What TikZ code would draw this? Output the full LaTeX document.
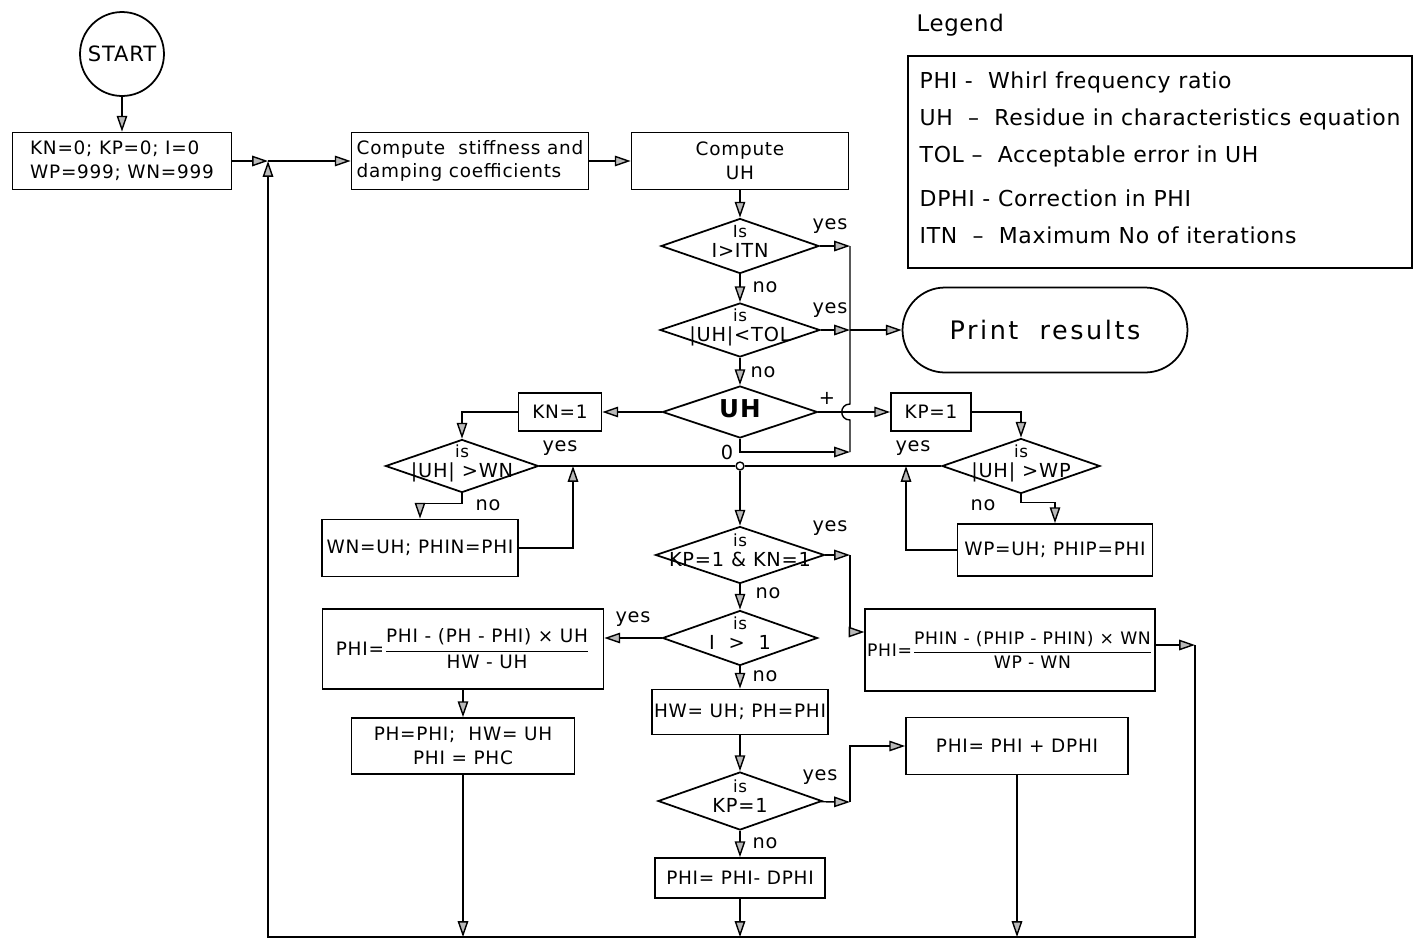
\documentclass[tikz,border=0pt]{standalone}
\usepackage{fontspec}
\usepackage{amsmath}
\setmainfont{DejaVu Sans}[LetterSpace=3]
\newfontfamily\chartfont{DejaVu Sans}[LetterSpace=4]
\usetikzlibrary{shapes.geometric,arrows.meta}

% text that takes no room inside a decision box
\newcommand{\ctext}[1]{\raisebox{-0.55ex}[0pt][0pt]{\makebox[0pt]{#1}}}
\newcommand{\dtext}[2]{\raisebox{-0.15ex}[0pt][0pt]{\makebox[0pt]{\begin{tabular}{@{}c@{}}{\fontsize{9.5}{9}\selectfont #1}\\[-2pt]#2\end{tabular}}}}

\begin{document}
\begin{tikzpicture}[x=0.02cm, y=-0.02cm, line width=0.8pt]
  \tikzset{box/.style={draw, rectangle, line width=1pt, align=center, inner sep=1pt, font=\chartfont\fontsize{10.5}{13.5}\selectfont},
    test/.style={draw, diamond, line width=1pt, inner sep=0pt, font=\chartfont\fontsize{11}{13}\selectfont},
    flow/.style={draw, -{Triangle[length=9pt, width=6pt, fill=gray!55]}},
    tag/.style={font=\chartfont\fontsize{11}{12}\selectfont, inner sep=1pt}}
  \useasboundingbox (0,0) rectangle (1414,941);

  % start and initial values
  \node[draw, circle, line width=1pt, minimum size=1.68cm, inner sep=0pt, font=\chartfont\fontsize{12}{13}\selectfont] (start) at (122,54) {START};
  \node[box, align=left, minimum width=4.38cm, minimum height=1.14cm] (init) at (122,161) {KN=0; KP=0; I=0\\WP=999; WN=999};
  \coordinate (j0) at (268,161);
  \node[box, align=left, minimum width=4.74cm, minimum height=1.14cm] (stiff) at (470,161) {Compute\ \ stiffness and\\damping coefficients};
  \node[box, minimum width=4.34cm, minimum height=1.14cm] (cuh) at (740,161) {Compute\\UH};

  % main column of tests
  \node[test, minimum width=3.16cm, minimum height=1.1cm] (itn) at (740,246) {\dtext{Is}{I>ITN}};
  \node[test, minimum width=3.2cm, minimum height=1.08cm] (tol) at (740,330) {\dtext{is}{|UH|<TOL}};
  \node[test, minimum width=3.1cm, minimum height=1.04cm] (uh) at (740,412) {\ctext{\fontsize{14}{15}\selectfont\bfseries UH}};
  \node[draw, rounded corners=0.85cm, line width=1pt, minimum width=5.7cm, minimum height=1.7cm, font=\chartfont\fontsize{14.5}{16}\selectfont\addfontfeatures{LetterSpace=10}] (print) at (1045,330) {Print~~results};
  \coordinate (ra) at (850,246);
  \coordinate (rb) at (850,330);
  \coordinate (hopT) at (850,404);
  \coordinate (hopB) at (850,420);
  \coordinate (rz) at (850,452);

  % sign of UH
  \node[box, minimum width=1.66cm, minimum height=0.76cm] (kn) at (560,412) {KN=1};
  \node[box, minimum width=1.6cm, minimum height=0.76cm] (kp) at (931,412) {KP=1};
  \node[test, minimum width=3.06cm, minimum height=1.06cm] (wn) at (462,466) {\dtext{is}{|UH| >WN}};
  \node[test, minimum width=3.16cm, minimum height=1.1cm] (wp) at (1021,466) {\dtext{is}{|UH| >WP}};
  \node[draw, circle, inner sep=0pt, minimum size=4.5pt, line width=0.8pt] (dot) at (740,466) {};
  \node[box, minimum width=3.92cm, minimum height=1.14cm] (wnset) at (420,548) {WN=UH; PHIN=PHI};
  \node[box, minimum width=3.9cm, minimum height=1.04cm] (wpset) at (1055,550) {WP=UH; PHIP=PHI};
  \coordinate (wnj) at (573,466);
  \coordinate (wpj) at (906,466);

  % new value of PHI
  \node[test, minimum width=3.38cm, minimum height=1.14cm] (both) at (740,555) {\dtext{is}{KP=1 \& KN=1}};
  \node[test, minimum width=3.1cm, minimum height=1.1cm] (itr) at (740,638) {\dtext{is}{I\ \ >\ \ 1}};
  \node[box, minimum width=5.62cm, minimum height=1.6cm] (phil) at (463,649) {PHI=$\dfrac{\text{PHI - (PH - PHI) × UH}}{\text{HW - UH}}$};
  \node[box, minimum width=5.58cm, minimum height=1.64cm, font=\chartfont\fontsize{9.8}{13}\selectfont] (phir) at (1010,650) {PHI=$\dfrac{\text{PHIN - (PHIP - PHIN) × WN}}{\text{WP - WN}}$};
  \node[box, minimum width=4.46cm, minimum height=1.12cm] (hold) at (463,746) {PH=PHI;\ \ HW= UH\\PHI = PHC};
  \node[box, minimum width=3.38cm, minimum height=0.9cm] (hw) at (740,712) {HW= UH; PH=PHI};
  \node[test, minimum width=3.28cm, minimum height=1.16cm] (kpt) at (740,801) {\dtext{is}{KP=1}};
  \node[box, minimum width=4.44cm, minimum height=1.14cm] (plus) at (1017,746) {PHI= PHI + DPHI};
  \node[box, minimum width=3.4cm, minimum height=0.8cm] (minus) at (740,878) {PHI= PHI- DPHI};
  \coordinate (ry1) at (850,555);
  \coordinate (ry2) at (850,632);
  \coordinate (rk) at (850,802);
  \coordinate (rc) at (1195,645);
  \coordinate (br) at (1195,937);
  \coordinate (bl) at (268,937);

  % legend
  \node[anchor=west, font=\fontsize{13}{15}\selectfont] (legtitle) at (910,25) {Legend};
  \node[draw, line width=1pt, minimum width=10.08cm, minimum height=4.24cm] (legbox) at (1160,162) {};
  \node[anchor=north west, align=left, inner sep=0pt, font=\fontsize{12.5}{21}\selectfont] (legtext) at (919,71) {PHI -\ \ Whirl frequency ratio\\UH\ \ --\ \ Residue in characteristics equation\\TOL --\ \ Acceptable error in UH\\[4pt]DPHI - Correction in PHI\\ITN\ \ --\ \ Maximum No of iterations};

  % labels
  \node[tag] (y1) at (830,226) {yes};
  \node[tag] (n1) at (765,287) {no};
  \node[tag] (y2) at (830,310) {yes};
  \node[tag] (n2) at (763,372) {no};
  \node[tag] (plab) at (827,398) {+};
  \node[tag] (zlab) at (727,452) {0};
  \node[tag] (y3) at (560,448) {yes};
  \node[tag] (n3) at (488,505) {no};
  \node[tag] (y4) at (913,448) {yes};
  \node[tag] (n4) at (983,505) {no};
  \node[tag] (y5) at (830,528) {yes};
  \node[tag] (n5) at (768,593) {no};
  \node[tag] (y6) at (633,619) {yes};
  \node[tag] (n6) at (765,676) {no};
  \node[tag] (y7) at (820,777) {yes};
  \node[tag] (n7) at (765,843) {no};

  % connectors
  \draw[flow] (start) -- (init);
  \draw[flow] (init) -- (j0);
  \draw[flow] (j0) -- (stiff);
  \draw[flow] (stiff) -- (cuh);
  \draw[flow] (cuh) -- (itn);
  \draw[flow] (itn) -- (tol);
  \draw[flow] (tol) -- (uh);
  \draw[flow] (itn) -- (ra);
  \draw (ra) -- (hopT) .. controls +(-11,0) and +(-11,0) .. (hopB) -- (rz);
  \draw[flow] (tol) -- (rb);
  \draw[flow] (rb) -- (print);
  \draw[flow] (uh.south) |- (rz);
  \draw[flow] (uh) -- (kp);
  \draw[flow] (uh) -- (kn);
  \draw[flow] (kn) -| (wn);
  \draw[flow] (kp) -| (wp);
  \draw (wn) -- (dot) -- (wp);
  \draw[flow] (dot) -- (both);
  \draw[flow] (wn.south) -- ++(0,10) -| (wnset);
  \draw[flow] (wnset) -| (wnj);
  \draw[flow] (wp.south) -- ++(0,8) -| (wpset);
  \draw[flow] (wpset) -| (wpj);
  \draw[flow] (both) -- (ry1);
  \draw[flow] (ry1) |- (phir.west |- ry2);
  \draw[flow] (both) -- (itr);
  \draw[flow] (itr) -- (itr -| phil.east);
  \draw[flow] (itr) -- (hw);
  \draw[flow] (phil) -- (hold);
  \draw[flow] (hw) -- (kpt);
  \draw[flow] (kpt) -- (rk);
  \draw[flow] (rk) |- (plus);
  \draw[flow] (kpt) -- (minus);
  \draw[flow] (minus) -- (minus |- bl);
  \draw[flow] (plus) -- (plus |- bl);
  \draw[flow] (hold) -- (hold |- bl);
  \draw[flow] (phir.east |- rc) -- (rc);
  \draw[flow] (rc) -- (br) -- (bl) -- (j0);
\end{tikzpicture}
\end{document}
